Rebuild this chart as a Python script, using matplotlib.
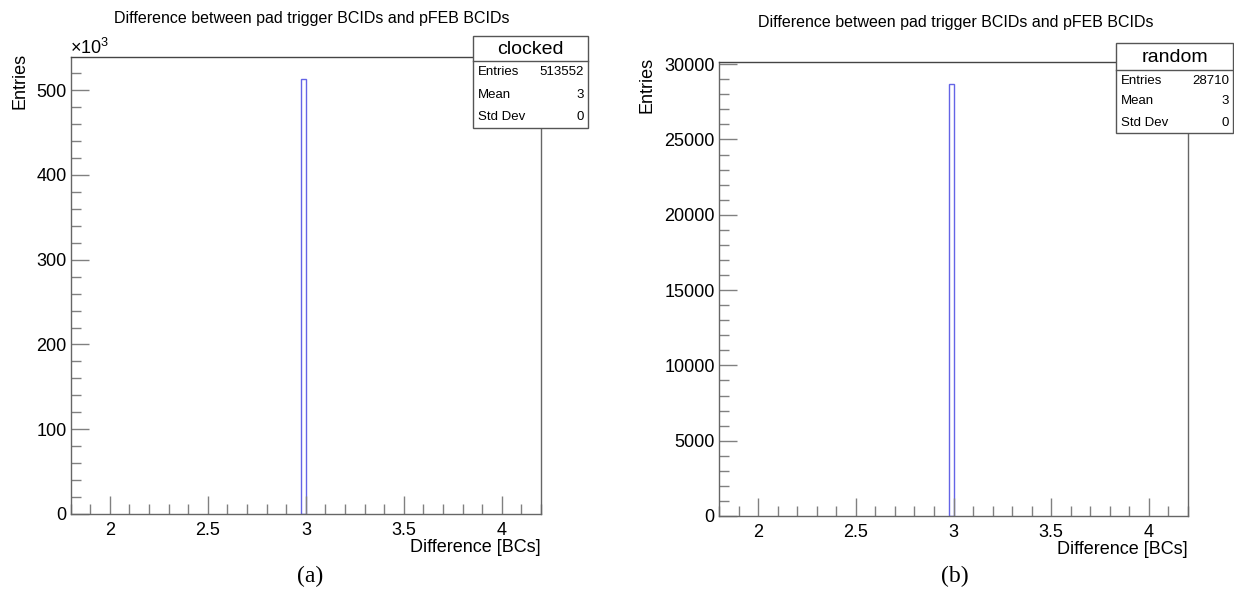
import matplotlib
matplotlib.use("Agg")
import matplotlib.pyplot as plt
from matplotlib.patches import Rectangle
from matplotlib.ticker import MultipleLocator, FuncFormatter

plt.rcParams['font.family'] = ['Liberation Sans', 'DejaVu Sans']
plt.rcParams['mathtext.fontset'] = 'custom'
plt.rcParams['mathtext.rm'] = 'Liberation Sans'
plt.rcParams['mathtext.it'] = 'Liberation Sans:italic'

# data
title = "Difference between pad trigger BCIDs and pFEB BCIDs"
xlabel = "Difference [BCs]"
ylabel = "Entries"
hist_names = ["clocked", "random"]
diff_values = [3, 3]
entries = [513552, 28710]
means = [3, 3]
std_devs = [0, 0]
panel_labels = ["(a)", "(b)"]
x_range = [1.8, 4.2]
n_bins = 100

W, H = 1234, 597
fig = plt.figure(figsize=(W / 100, H / 100), dpi=100)


def frac(l, t, r, b):
    return [l / W, 1 - b / H, (r - l) / W, (b - t) / H]


def px(x, y):
    return x / W, 1 - y / H


axes_px = [(70.7, 57, 541, 514), (719, 62, 1188, 516)]
title_px = [(312, 18), (956, 23)]
ylabel_px = [(20, 53), (647, 57)]
stat_px = [(473, 36, 588, 128, 61), (1116, 43, 1233, 133, 70)]
letter_px = [(310, 576), (955, 576)]

line_col = '#666666'
bin_w = (x_range[1] - x_range[0]) / n_bins

for i in range(2):
    ax = fig.add_axes(frac(*axes_px[i]))
    # ROOT put the single value into the bin just below 3
    ax.bar([diff_values[i] - bin_w], [entries[i]], width=bin_w, align='edge',
           fill=False, edgecolor='#6464e6', linewidth=1.0)
    ax.set_xlim(*x_range)
    ax.set_ylim(0, 1.05 * entries[i])

    ax.xaxis.set_major_locator(MultipleLocator(0.5))
    ax.xaxis.set_minor_locator(MultipleLocator(0.1))
    ax.xaxis.set_major_formatter(FuncFormatter(lambda v, p: f"{v:g}"))
    if i == 0:
        ax.yaxis.set_major_locator(MultipleLocator(100000))
        ax.yaxis.set_minor_locator(MultipleLocator(20000))
        ax.yaxis.set_major_formatter(FuncFormatter(lambda v, p: f"{v / 1000:g}"))
    else:
        ax.yaxis.set_major_locator(MultipleLocator(5000))
        ax.yaxis.set_minor_locator(MultipleLocator(1000))
        ax.yaxis.set_major_formatter(FuncFormatter(lambda v, p: f"{v:g}"))

    ax.tick_params(which='both', direction='in', color='#808080', width=1,
                   labelsize=13, top=False, right=False)
    ax.tick_params(axis='x', pad=6)
    ax.tick_params(axis='y', pad=3)
    ax.tick_params(which='major', length=13)
    ax.tick_params(which='minor', length=7)
    for s in ax.spines.values():
        s.set_color(line_col)
        s.set_linewidth(1)
    ax.spines['top'].set_color('#444444')

    ax.text(1.0, -0.055, xlabel, transform=ax.transAxes, ha='right', va='top',
            fontsize=13)

    fig.text(*px(*title_px[i]), title, ha='center', va='center', fontsize=11.5)
    fig.text(*px(*ylabel_px[i]), ylabel, rotation=90, ha='center', va='top',
             fontsize=13)

    # stats box
    l, t, r, b, hl = stat_px[i]
    x0, y0 = px(l, b)
    fig.patches.append(Rectangle((x0, y0), (r - l) / W, (b - t) / H,
                                 transform=fig.transFigure, facecolor='white',
                                 edgecolor='#555555', linewidth=1, zorder=5))
    fig.lines.append(plt.Line2D([l / W, r / W], [1 - hl / H, 1 - hl / H],
                                transform=fig.transFigure, color='#555555',
                                linewidth=1, zorder=6))
    fig.text(*px((l + r) / 2, (t + hl) / 2 + 1), hist_names[i], ha='center',
             va='center', fontsize=14, zorder=7)
    rows = [("Entries", f"{entries[i]}"), ("Mean", f"{means[i]}"),
            ("Std Dev", f"{std_devs[i]}")]
    row_h = (b - hl) / 3
    for k, (lab, val) in enumerate(rows):
        yy = hl + row_h * (k + 0.5)
        fig.text(*px(l + 5, yy), lab, ha='left', va='center', fontsize=9.5, zorder=7)
        fig.text(*px(r - 4, yy), val, ha='right', va='center', fontsize=9.5, zorder=7)

    fig.text(*px(*letter_px[i]), panel_labels[i], ha='center', va='center',
             fontsize=17, family='Liberation Serif')

# x10^3 multiplier on the left panel
fig.text(*px(70, 54), r'$\times$10$^{3}$', ha='left', va='baseline', fontsize=13)

fig.savefig("out.png", dpi=100, facecolor='white')
